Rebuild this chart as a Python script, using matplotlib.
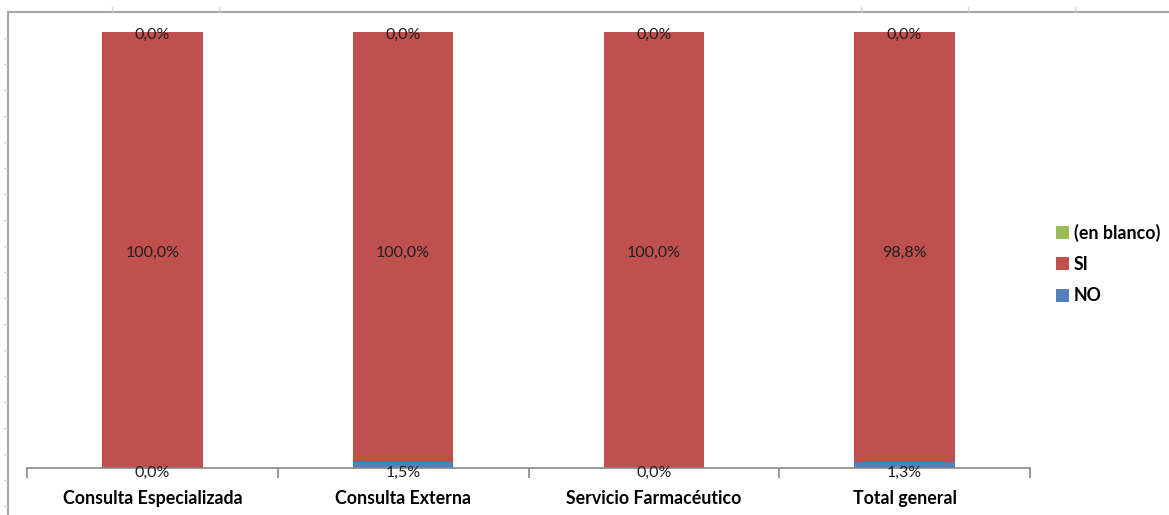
import matplotlib
matplotlib.use("Agg")
from matplotlib import pyplot as plt
from matplotlib.lines import Line2D
import numpy as np

categorias = ["Consulta Especializada", "Consulta Externa", "Servicio Farmacéutico", "Total general"]
no_vals = [0.0, 1.5, 0.0, 1.3]
si_vals = [100.0, 100.0, 100.0, 98.8]
blanco_vals = [0.0, 0.0, 0.0, 0.0]

c_no = "#4F81BD"
c_si = "#C0504D"
c_blanco = "#9BBB59"

plt.rcParams['font.family'] = ['Lato', 'DejaVu Sans']

fig = plt.figure(figsize=(11.69, 5.15), dpi=100)

# bordes de la hoja (filas/columnas) que se ven en la captura
bg = fig.add_axes([0, 0, 1, 1])
bg.set_xlim(0, 1169)
bg.set_ylim(515, 0)
bg.axis('off')
bg.add_line(Line2D([8, 1169], [12, 12], color="#a6a6a6", lw=1.5))
bg.add_line(Line2D([8, 8], [12, 515], color="#a6a6a6", lw=1.5))
for xc in [112, 219, 861, 968, 1075]:
    bg.add_line(Line2D([xc, xc], [7, 11], color="#d0d0d0", lw=1))
for yc in [38, 64, 90, 116, 142, 168, 194, 220, 246, 272, 298, 324, 350, 376, 402, 428, 454, 480, 506]:
    bg.add_line(Line2D([4, 7], [yc, yc], color="#d0d0d0", lw=1))

ax = fig.add_axes([27/1169, 47/515, 1003/1169, 436/515])
x = np.arange(len(categorias))
w = 0.4
no = np.array(no_vals)
si = np.array(si_vals)
bl = np.array(blanco_vals)

# grafico 100% apilado: cada barra se escala a 100
tot = no + si + bl
k = 100.0 / tot
h_no = no * k
h_si = si * k
h_bl = bl * k

b_no = ax.bar(x, h_no, w, color=c_no, label="NO")
b_si = ax.bar(x, h_si, w, bottom=h_no, color=c_si, label="SI")
b_bl = ax.bar(x, h_bl, w, bottom=h_no + h_si, color=c_blanco, label="(en blanco)")

def fmt(v):
    return ("%.1f%%" % v).replace(".", ",")

dy = -0.6
for i in range(len(x)):
    ax.text(x[i], -0.5 + dy, fmt(no[i]), ha='center', va='center', fontsize=11.5, color="#1f1f1f", clip_on=False)
    ax.text(x[i], 50 + dy, fmt(si[i]), ha='center', va='center', fontsize=11.5, color="#1f1f1f")
    ax.text(x[i], 100 + dy, fmt(bl[i]), ha='center', va='center', fontsize=11.5, color="#1f1f1f", clip_on=False)

ax.set_xlim(-0.5, len(categorias) - 0.5)
ax.set_ylim(0, 100)
for s in ['top', 'right', 'left']:
    ax.spines[s].set_visible(False)
ax.spines['bottom'].set_color("#868686")
ax.spines['bottom'].set_linewidth(1.2)
ax.set_yticks([])
ax.set_xticks(x)
ax.set_xticklabels(categorias, fontsize=12.8, fontweight='bold')
ax.tick_params(axis='x', which='major', length=0, pad=16)
ax.set_xticks(np.arange(-0.5, len(categorias)), minor=True)
ax.tick_params(axis='x', which='minor', length=7, color="#868686", width=1.2)

handles = [b_bl, b_si, b_no]
leg = fig.legend(handles, ["(en blanco)", "SI", "NO"], loc='center left',
                 bbox_to_anchor=(1040/1169, 1 - 264/515), frameon=False,
                 prop={'weight': 'bold', 'size': 12.8}, handlelength=0.75,
                 handleheight=0.75, handletextpad=0.25, labelspacing=0.8)

fig.savefig("out.png", dpi=100)
